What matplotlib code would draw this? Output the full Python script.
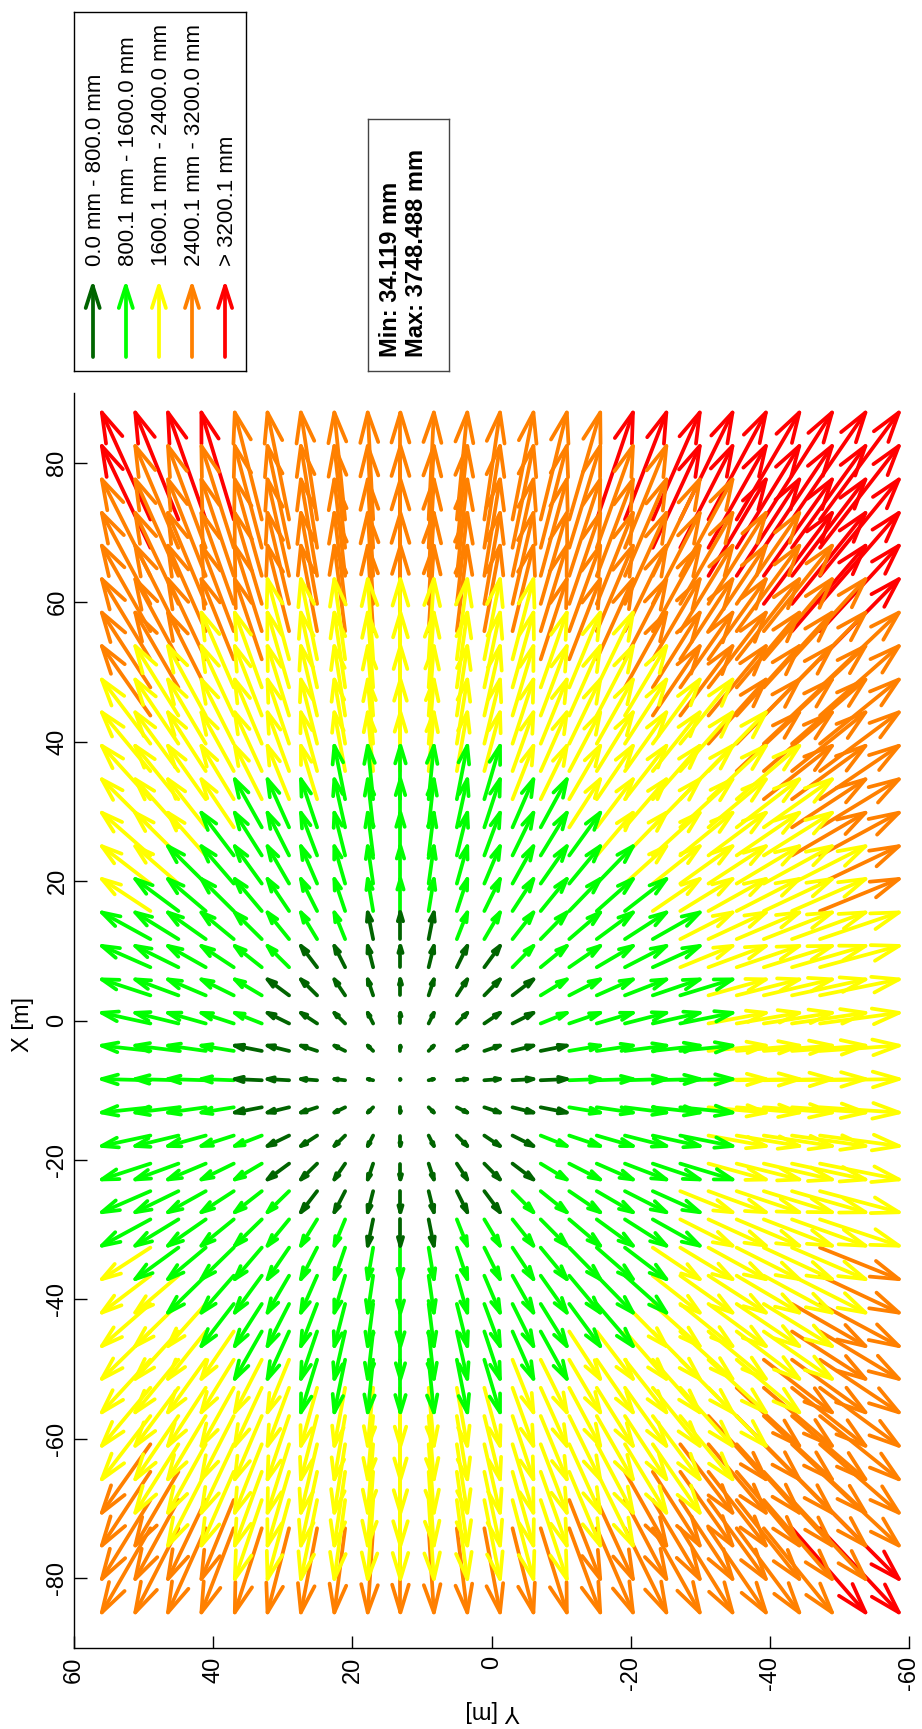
import numpy as np
import matplotlib
matplotlib.use("Agg")
import matplotlib.pyplot as plt
from matplotlib.collections import LineCollection

plt.rcParams['font.family'] = ['Liberation Sans', 'DejaVu Sans']
plt.rcParams['axes.unicode_minus'] = False

# arrow tip positions [m] - rows along X (vertical), columns along Y (horizontal)
grid_x = [-84.9, -80.1, -75.3, -70.6, -65.8, -61.0, -56.2, -51.4, -46.7, -41.9,
          -37.1, -32.3, -27.5, -22.8, -18.0, -13.2, -8.4, -3.6, 1.1, 5.9,
          10.7, 15.5, 20.3, 25.0, 29.8, 34.6, 39.4, 44.2, 48.9, 53.7,
          58.5, 63.3, 68.1, 72.8, 77.6, 82.4, 87.2]
grid_y = [56.0, 51.2, 46.5, 41.7, 36.9, 32.2, 27.4, 22.6, 17.8, 13.1,
          8.3, 3.5, -1.2, -6.0, -10.8, -15.6, -20.3, -25.1, -29.9, -34.6,
          -39.4, -44.2, -48.9, -53.7, -58.5]

# displacement components [mm]
disp_x = [-2415, -2265, -2115, -1965, -1815, -1665, -1510, -1360, -1210, -1060,
          -905, -755, -605, -455, -300, -150, 34, 153, 306, 460,
          613, 766, 920, 1073, 1226, 1380, 1533, 1686, 1840, 1993,
          2146, 2300, 2453, 2610, 2765, 2920, 3070]
disp_y = [1395, 1240, 1085, 930, 775, 620, 465, 310, 155, 0,
          -150, -300, -450, -600, -750, -890, -1040, -1190, -1350, -1500,
          -1650, -1800, -1960, -2110, -2265]

class_edges = [800, 1600, 2400, 3200]
class_colors = ['#006400', '#00ff00', '#ffff00', '#ff8000', '#ff0000']
class_labels = ['0.0 mm - 800.0 mm', '800.1 mm - 1600.0 mm', '1600.1 mm - 2400.0 mm',
                '2400.1 mm - 3200.0 mm', '> 3200.1 mm']
stats_text = 'Min: 34.119 mm\nMax: 3748.488 mm'

arrow_scale = 0.005  # metres drawn per mm of displacement
lw = 2.7
fs = 17
fs_leg = 16


def arrow_lines(th, tv, dh, dv, max_head=4.3):
    # shaft + open head (matlab quiver style), tip sits on (th, tv)
    L = np.hypot(dh, dv)
    if L < 1e-9:
        return []
    ux, uy = dh / L, dv / L
    px, py = -uy, ux
    head = min(0.33 * L, max_head)
    w = 0.3 * head
    bx, by = th - head * ux, tv - head * uy
    return [[(th - dh, tv - dv), (th, tv)],
            [(bx + w * px, by + w * py), (th, tv), (bx - w * px, by - w * py)]]


fig = plt.figure(figsize=(9.22, 17.29), dpi=100)
ax = fig.add_axes([74 / 922, 1 - 1648 / 1729, 835.3 / 922, 1255 / 1729])

GX, GY = np.meshgrid(grid_x, grid_y, indexing='ij')
DX, DY = np.meshgrid(disp_x, disp_y, indexing='ij')
mag = np.hypot(DX, DY)
cls = np.digitize(mag, class_edges, right=True)

# draw high classes first so the small green arrows stay on top
for c in range(len(class_colors) - 1, -1, -1):
    segs = []
    for gy, gx, dy, dx in zip(GY[cls == c], GX[cls == c], DY[cls == c], DX[cls == c]):
        segs += arrow_lines(gy, gx, dy * arrow_scale, dx * arrow_scale)
    ax.add_collection(LineCollection(segs, colors=class_colors[c], linewidths=lw,
                                     capstyle='round', joinstyle='round'))

ax.set_xlim(60, -60)
ax.set_ylim(-90, 90)
ax.set_xticks([60, 40, 20, 0, -20, -40, -60])
ax.set_yticks([-80, -60, -40, -20, 0, 20, 40, 60, 80])
ax.spines['top'].set_visible(False)
ax.spines['right'].set_visible(False)
for s in ['left', 'bottom']:
    ax.spines[s].set_linewidth(1.0)
ax.tick_params(direction='in', length=9, width=1, labelsize=fs)
ax.tick_params(axis='x', pad=6)
ax.tick_params(axis='y', pad=4)
for t in ax.get_xticklabels():
    t.set_rotation(90)
for t in ax.get_yticklabels():
    t.set_rotation(90)
    t.set_va('center')

fig.text(23 / 922, 1 - 1025 / 1729, 'X [m]', rotation=90, fontsize=fs,
         ha='center', va='center')
fig.text(493 / 922, 1 - 1711 / 1729, 'Y [m]', rotation=180, fontsize=fs,
         ha='center', va='center')

# legend box
lg = fig.add_axes([74 / 922, 1 - 370.7 / 1729, 172 / 922, 359 / 1729])
lg.set_xlim(0, 172)
lg.set_ylim(0, 359)
lg.set_xticks([])
lg.set_yticks([])
for s in lg.spines.values():
    s.set_linewidth(1.0)
for i, (col, lab) in enumerate(zip(class_colors, class_labels)):
    xa = 18.7 + 33.1 * i
    tip_y = 84.7
    L = 71.0
    h = 22.0
    lg.add_collection(LineCollection(
        [[(xa, tip_y - L), (xa, tip_y)], [(xa - 7, tip_y - h), (xa, tip_y), (xa + 7, tip_y - h)]],
        colors=col, linewidths=lw, capstyle='round', joinstyle='round'))
    lg.text(xa + 2.5, 104.5, lab, rotation=90, fontsize=fs_leg, ha='center', va='bottom')

# min / max box
mm = fig.add_axes([368.3 / 922, 1 - 370.7 / 1729, 81 / 922, 251.4 / 1729])
mm.set_xticks([])
mm.set_yticks([])
for s in mm.spines.values():
    s.set_linewidth(1.0)
    s.set_edgecolor('#444444')
mm.text(0.435, 0.0557, stats_text, rotation=90, fontsize=fs, fontweight='bold',
        ha='center', va='bottom', multialignment='left', transform=mm.transAxes)

fig.savefig('out.png', dpi=100)
